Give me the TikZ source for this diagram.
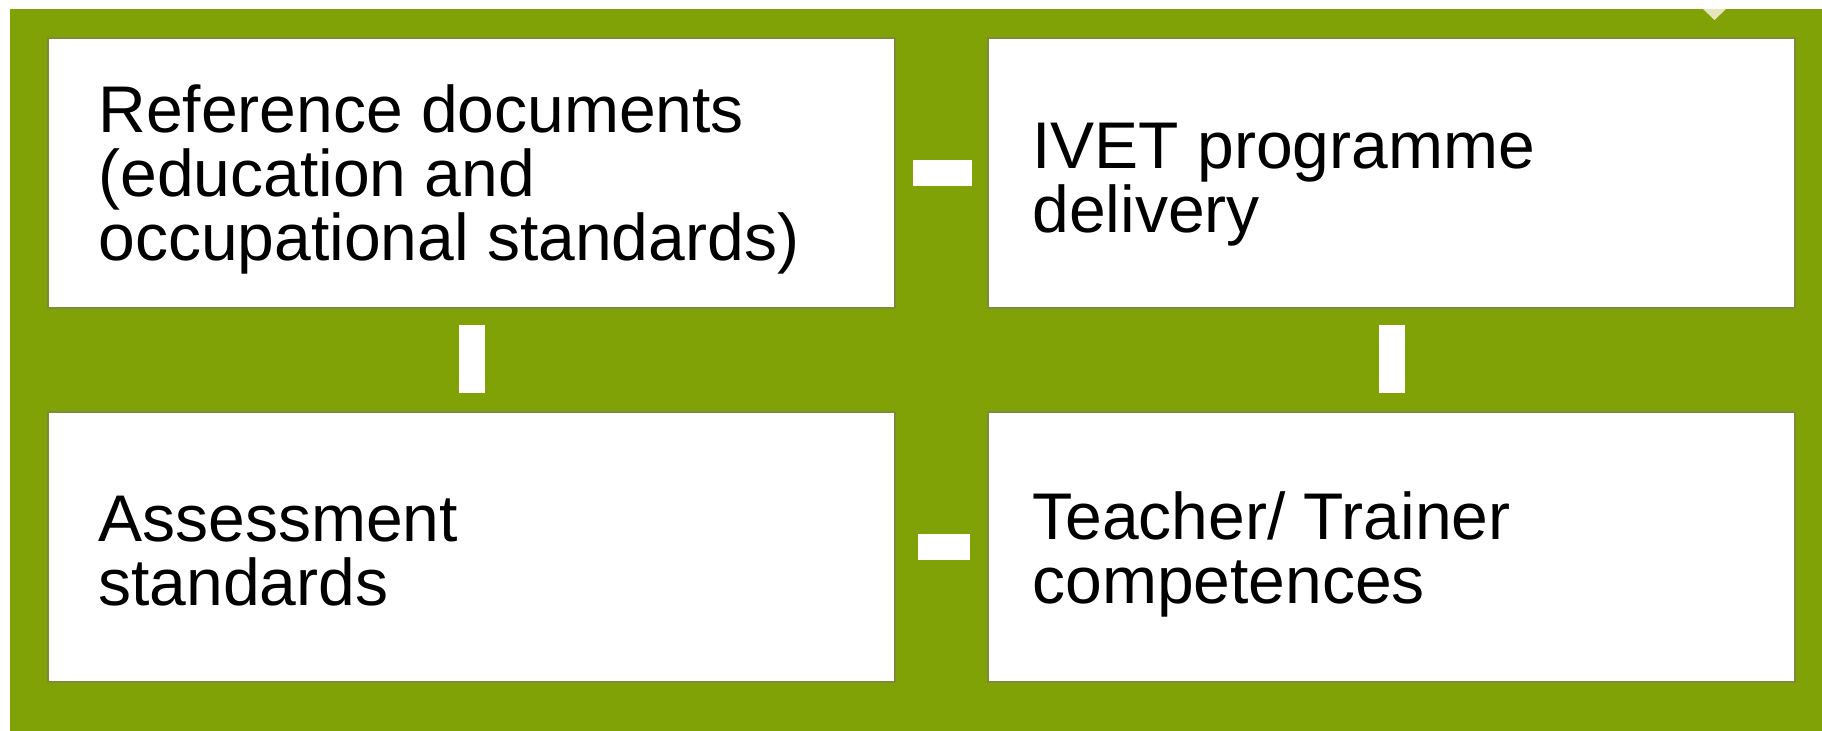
\documentclass[tikz,border=0pt]{standalone}
\usepackage{fontspec}
\setmainfont{Liberation Sans}
\usetikzlibrary{arrows}
\definecolor{leaf}{RGB}{128,162,6}
\definecolor{rim}{RGB}{122,140,52}
\definecolor{tipcol}{RGB}{232,228,190}

\begin{document}
\begin{tikzpicture}[x=0.5pt, y=-0.5pt,
  field/.style={draw=rim, line width=1pt, fill=white, inner sep=0pt, outer sep=0pt,
    minimum height=135pt},
  caption/.style={anchor=west, inner sep=0pt, align=left, font=\fontsize{33}{32}\selectfont},
  link/.style={white, line width=13pt}]
\useasboundingbox (0,0) rectangle (1822,731);
\fill[leaf] (10,9) rectangle (1822,731);
\fill[tipcol] (1703,9) -- (1726,9) -- (1714.5,20) -- cycle;

\node[field, minimum width=423.5pt] at (471.5,173) (ref) {};
\node[field, minimum width=403.5pt] at (1391.5,173) (ivet) {};
\node[field, minimum width=423.5pt] at (471.5,547) (assess) {};
\node[field, minimum width=403.5pt] at (1391.5,547) (teach) {};

\node[caption] at ([xshift=25pt, yshift=-3pt]ref.west) (reftext) {Reference documents\\(education and\\occupational standards)};
\node[caption] at ([xshift=22pt, yshift=-6pt]ivet.west) (ivettext) {IVET programme\\delivery};
\node[caption] at ([xshift=25pt, yshift=-2pt]assess.west) (assesstext) {Assessment\\standards};
\node[caption] at ([xshift=22pt, yshift=-3.5pt]teach.west) (teachtext) {Teacher/ Trainer\\competences};

\draw[link, shorten <=9pt, shorten >=8pt] (ref) -- (ivet);
\draw[link, shorten <=11.5pt, shorten >=9pt] (assess) -- (teach);
\draw[link, shorten <=8.5pt, shorten >=9.5pt] (ref) -- (assess);
\draw[link, shorten <=8.5pt, shorten >=9.5pt] (ivet) -- (teach);

\end{tikzpicture}
\end{document}
